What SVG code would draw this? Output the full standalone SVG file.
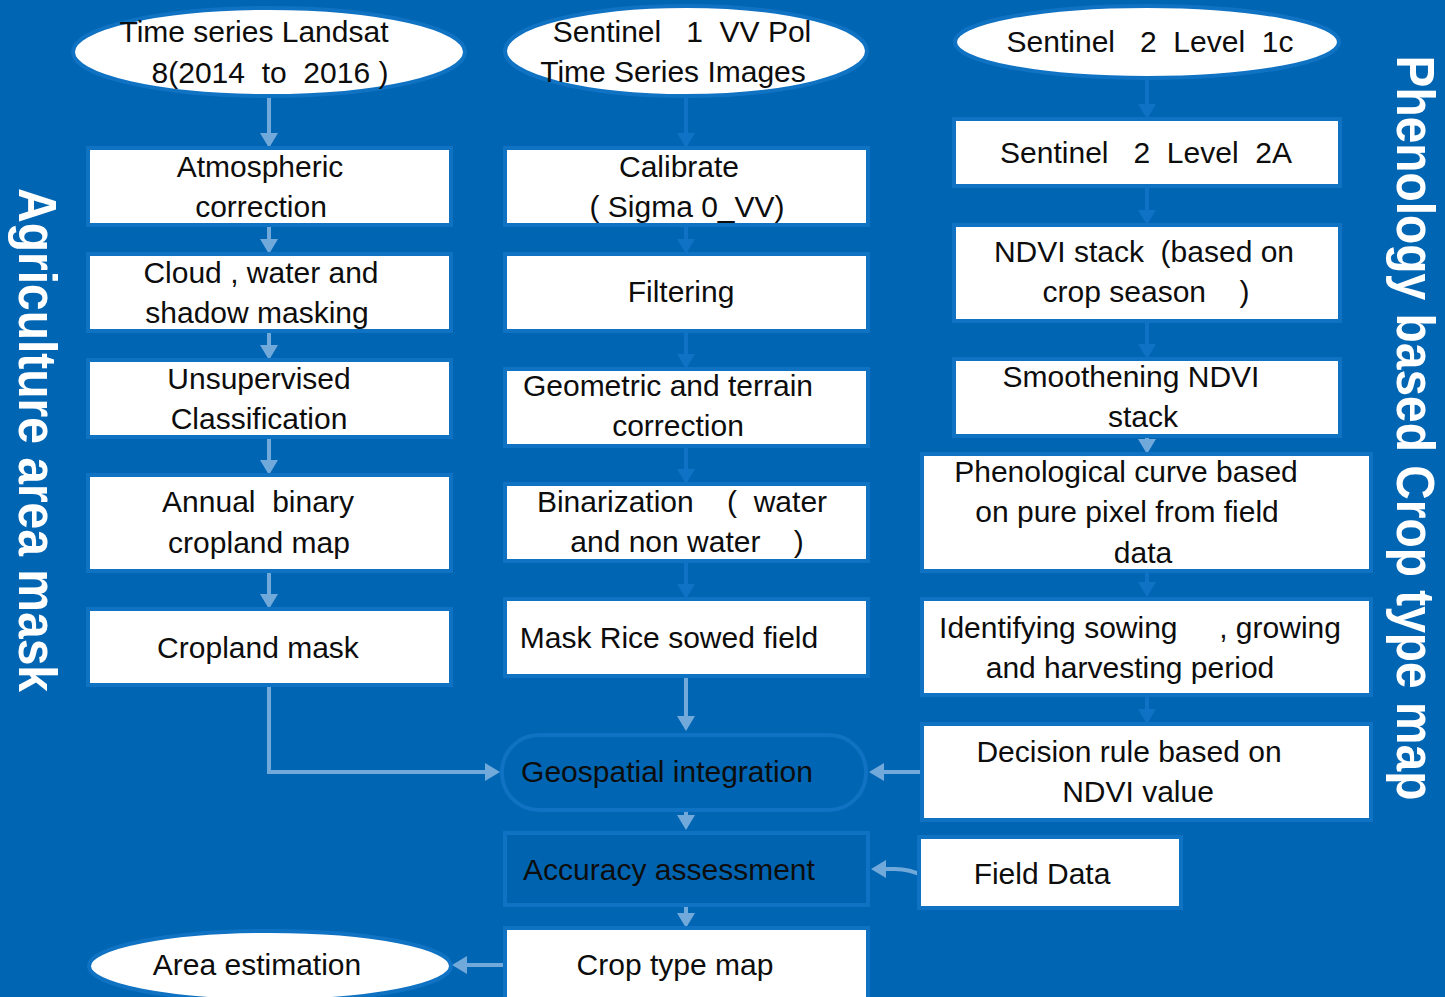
<svg xmlns="http://www.w3.org/2000/svg" width="1445" height="997" viewBox="0 0 1445 997">
<style>
.bg{fill:#0065b2}
.box{fill:#ffffff;stroke:#1072c3;stroke-width:4}
.ell{fill:#ffffff;stroke:#1072c3;stroke-width:4}
.open{fill:#0063b0;stroke:#1072c3;stroke-width:4}
.t{font-family:"Liberation Sans",Arial,sans-serif;font-size:30px;fill:#0d0d0d;text-anchor:middle;white-space:pre}
.title{font-family:"Liberation Sans",Arial,sans-serif;font-weight:bold;font-size:54px;fill:#ffffff;text-anchor:middle;white-space:pre}
.la{fill:none;stroke:#72a9db;stroke-width:4;marker-end:url(#ha)}
.da{fill:none;stroke:#0f72c4;stroke-width:4;marker-end:url(#hd)}
</style>
<defs>
<marker id="ha" viewBox="0 0 15 18" refX="7" refY="9" markerWidth="15" markerHeight="18" markerUnits="userSpaceOnUse" orient="auto"><path d="M0,0 L15,9 L0,18 z" fill="#72a9db"/></marker>
<marker id="hd" viewBox="0 0 15 18" refX="7" refY="9" markerWidth="15" markerHeight="18" markerUnits="userSpaceOnUse" orient="auto"><path d="M0,0 L15,9 L0,18 z" fill="#0f72c4"/></marker>
</defs>
<rect class="bg" x="0" y="0" width="1445" height="997"/>

<text class="title" transform="translate(19,440) rotate(90)" textLength="504" lengthAdjust="spacingAndGlyphs">Agriculture area mask</text>
<text class="title" transform="translate(1397,428) rotate(90)" textLength="745" lengthAdjust="spacingAndGlyphs">Phenology based Crop type map</text>

<g id="connectors">
<path class="la" d="M269,97 V140"/>
<path class="la" d="M269,224 V246"/>
<path class="la" d="M269,330 V352"/>
<path class="la" d="M269,436 V467"/>
<path class="la" d="M269,570 V601"/>
<path class="la" d="M269,683 V772 H492"/>
<path class="da" d="M686,97 V140"/>
<path class="da" d="M686,224 V246"/>
<path class="da" d="M686,330 V361"/>
<path class="da" d="M686,445 V476"/>
<path class="da" d="M686,560 V591"/>
<path class="la" d="M686,675 V723"/>
<path class="la" d="M686,812 V822"/>
<path class="la" d="M686,907 V920"/>
<path class="da" d="M1147,79 V111"/>
<path class="da" d="M1147,186 V217"/>
<path class="da" d="M1147,321 V351"/>
<path class="la" d="M1147,436 V446"/>
<path class="da" d="M1147,571 V589"/>
<path class="da" d="M1147,694 V716"/>
<path class="la" d="M923,772 H877"/>
<path class="la" d="M923,876 Q910,869 895,869 H879"/>
<path class="la" d="M506,965 H460"/>
</g>

<g id="n1"><ellipse class="ell" cx="269" cy="52" rx="196" ry="44"/>
<text class="t" x="254" y="42">Time series Landsat</text><text class="t" x="270" y="83">8(2014  to  2016 )</text></g>
<g id="n2"><rect class="box" x="88" y="148" width="363" height="77"/>
<text class="t" x="260" y="177">Atmospheric</text><text class="t" x="261" y="217">correction</text></g>
<g id="n3"><rect class="box" x="88" y="254" width="363" height="77"/>
<text class="t" x="261" y="283">Cloud , water and</text><text class="t" x="257" y="323">shadow masking</text></g>
<g id="n4"><rect class="box" x="88" y="360" width="363" height="77"/>
<text class="t" x="259" y="389">Unsupervised</text><text class="t" x="259" y="429">Classification</text></g>
<g id="n5"><rect class="box" x="88" y="475" width="363" height="96"/>
<text class="t" x="258" y="512">Annual  binary</text><text class="t" x="259" y="553">cropland map</text></g>
<g id="n6"><rect class="box" x="88" y="609" width="363" height="76"/>
<text class="t" x="258" y="658">Cropland mask</text></g>

<g id="n7"><ellipse class="ell" cx="686" cy="51" rx="181" ry="45"/>
<text class="t" x="682" y="42">Sentinel   1  VV Pol</text><text class="t" x="673" y="82">Time Series Images</text></g>
<g id="n8"><rect class="box" x="505" y="148" width="363" height="77"/>
<text class="t" x="679" y="177">Calibrate</text><text class="t" x="687" y="217">( Sigma 0_VV)</text></g>
<g id="n9"><rect class="box" x="505" y="254" width="363" height="77"/>
<text class="t" x="681" y="302">Filtering</text></g>
<g id="n10"><rect class="box" x="505" y="369" width="363" height="77"/>
<text class="t" x="668" y="396">Geometric and terrain</text><text class="t" x="678" y="436">correction</text></g>
<g id="n11"><rect class="box" x="505" y="484" width="363" height="77"/>
<text class="t" x="682" y="512">Binarization    (  water</text><text class="t" x="687" y="552">and non water    )</text></g>
<g id="n12"><rect class="box" x="505" y="599" width="363" height="77"/>
<text class="t" x="669" y="648">Mask Rice sowed field</text></g>
<g id="n13"><rect x="502" y="735" width="364" height="75" rx="37" fill="none" stroke="#1072c3" stroke-width="4"/>
<text class="t" x="667" y="782">Geospatial integration</text></g>
<g id="n14"><rect class="open" x="505" y="833" width="363" height="72"/>
<text class="t" x="669" y="880">Accuracy assessment</text></g>
<g id="n15"><rect class="box" x="505" y="928" width="363" height="80"/>
<text class="t" x="675" y="975">Crop type map</text></g>

<g id="n16"><ellipse class="ell" cx="1147" cy="42" rx="192" ry="36"/>
<text class="t" x="1150" y="52">Sentinel   2  Level  1c</text></g>
<g id="n17"><rect class="box" x="954" y="119" width="386" height="67"/>
<text class="t" x="1146" y="163">Sentinel   2  Level  2A</text></g>
<g id="n18"><rect class="box" x="954" y="225" width="386" height="96"/>
<text class="t" x="1144" y="262">NDVI stack  (based on</text><text class="t" x="1146" y="302">crop season    )</text></g>
<g id="n19"><rect class="box" x="954" y="359" width="386" height="77"/>
<text class="t" x="1131" y="387">Smoothening NDVI</text><text class="t" x="1143" y="427">stack</text></g>
<g id="n20"><rect class="box" x="922" y="454" width="449" height="117"/>
<text class="t" x="1126" y="482">Phenological curve based</text><text class="t" x="1127" y="522">on pure pixel from field</text><text class="t" x="1143" y="563">data</text></g>
<g id="n21"><rect class="box" x="922" y="599" width="449" height="96"/>
<text class="t" x="1140" y="638">Identifying sowing     , growing</text><text class="t" x="1130" y="678">and harvesting period</text></g>
<g id="n22"><rect class="box" x="922" y="724" width="449" height="96"/>
<text class="t" x="1129" y="762">Decision rule based on</text><text class="t" x="1138" y="802">NDVI value</text></g>
<g id="n23"><rect class="box" x="919" y="837" width="262" height="71"/>
<text class="t" x="1042" y="884">Field Data</text></g>

<g id="n24"><ellipse class="ell" cx="270" cy="966" rx="181" ry="35"/>
<text class="t" x="257" y="975">Area estimation</text></g>
</svg>
